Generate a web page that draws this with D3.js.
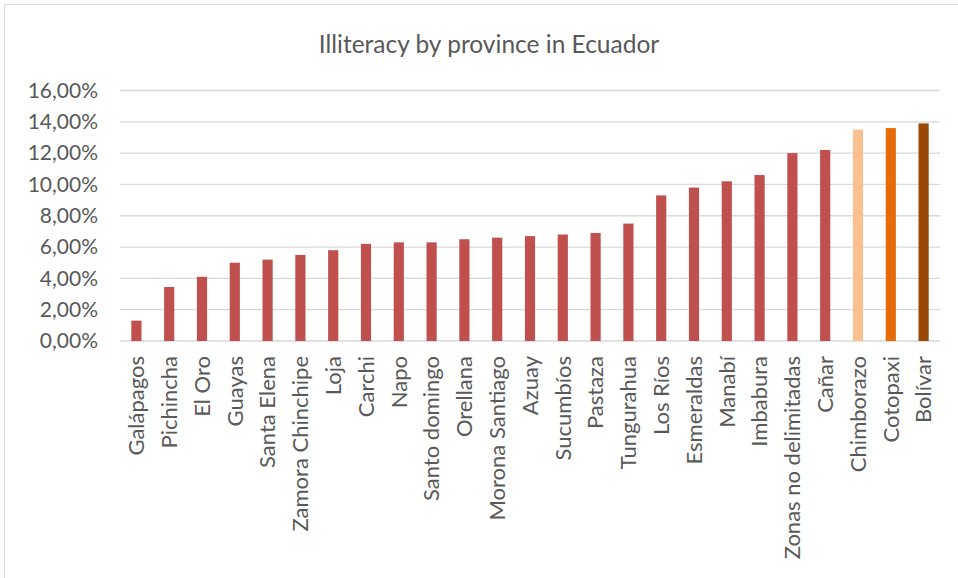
<!DOCTYPE html>
<html>
<head>
<meta charset="utf-8">
<script src="https://cdn.jsdelivr.net/npm/d3@7"></script>
<style>
  body { margin: 0; background: #fff; }
  text { font-family: Lato, "Noto Sans", sans-serif; fill: #595959; }
</style>
</head>
<body>
<div id="chart"></div>
<script>
// Data
const provinces = ["Galápagos", "Pichincha", "El Oro", "Guayas", "Santa Elena", "Zamora Chinchipe", "Loja", "Carchi", "Napo", "Santo domingo", "Orellana", "Morona Santiago", "Azuay", "Sucumbíos", "Pastaza", "Tungurahua", "Los Ríos", "Esmeraldas", "Manabí", "Imbabura", "Zonas no delimitadas", "Cañar", "Chimborazo", "Cotopaxi", "Bolívar"];
const illiteracy = [0.013, 0.0345, 0.041, 0.050, 0.052, 0.055, 0.058, 0.062, 0.063, 0.063, 0.065, 0.066, 0.067, 0.068, 0.069, 0.075, 0.093, 0.098, 0.102, 0.106, 0.120, 0.122, 0.135, 0.136, 0.139];
const yTicks = [0, 0.02, 0.04, 0.06, 0.08, 0.10, 0.12, 0.14, 0.16];
const highlight = { "Chimborazo": "#FAC090", "Cotopaxi": "#E46C0A", "Bolívar": "#984807" };

const width = 958, height = 578;
const margin = { top: 90.5, right: 18, bottom: 237, left: 120 };

const svg = d3.select("#chart").append("svg")
  .attr("width", width).attr("height", height);

// chart border
svg.append("rect")
  .attr("x", 4.5).attr("y", 4.5)
  .attr("width", width + 10).attr("height", height + 10)
  .attr("fill", "none").attr("stroke", "#d9d9d9");

const x = d3.scaleBand()
  .domain(provinces)
  .range([margin.left, width - margin.right])
  .paddingInner(0.69).paddingOuter(0.345);

const y = d3.scaleLinear()
  .domain([0, 0.16])
  .range([height - margin.bottom, margin.top]);

const locale = d3.formatLocale({ decimal: ",", thousands: ".", grouping: [3], currency: ["", "€"] });
const fmt = locale.format(".2%");

// gridlines
svg.append("g")
  .selectAll("line")
  .data(yTicks)
  .join("line")
  .attr("x1", margin.left).attr("x2", width - margin.right)
  .attr("y1", d => y(d)).attr("y2", d => y(d))
  .attr("stroke", "#d9d9d9").attr("stroke-width", 1.3);

// y labels
svg.append("g")
  .selectAll("text")
  .data(yTicks)
  .join("text")
  .attr("x", 98)
  .attr("y", d => y(d))
  .attr("dy", "0.35em")
  .attr("text-anchor", "end")
  .style("font-size", "21px")
  .text(d => fmt(d));

// bars
svg.append("g")
  .selectAll("rect")
  .data(provinces)
  .join("rect")
  .attr("x", d => x(d))
  .attr("width", x.bandwidth())
  .attr("y", (d, i) => y(illiteracy[i]))
  .attr("height", (d, i) => y(0) - y(illiteracy[i]))
  .attr("fill", d => highlight[d] || "#C0504D");

// category labels
svg.append("g")
  .selectAll("text")
  .data(provinces)
  .join("text")
  .attr("transform", d => `translate(${x(d) + x.bandwidth() / 2},356) rotate(-90)`)
  .attr("dy", "0.35em")
  .attr("text-anchor", "end")
  .style("font-size", "22px")
  .text(d => d);

// title
svg.append("text")
  .attr("x", 489).attr("y", 53)
  .attr("text-anchor", "middle")
  .style("font-size", "24.5px")
  .text("Illiteracy by province in Ecuador");
</script>
</body>
</html>
